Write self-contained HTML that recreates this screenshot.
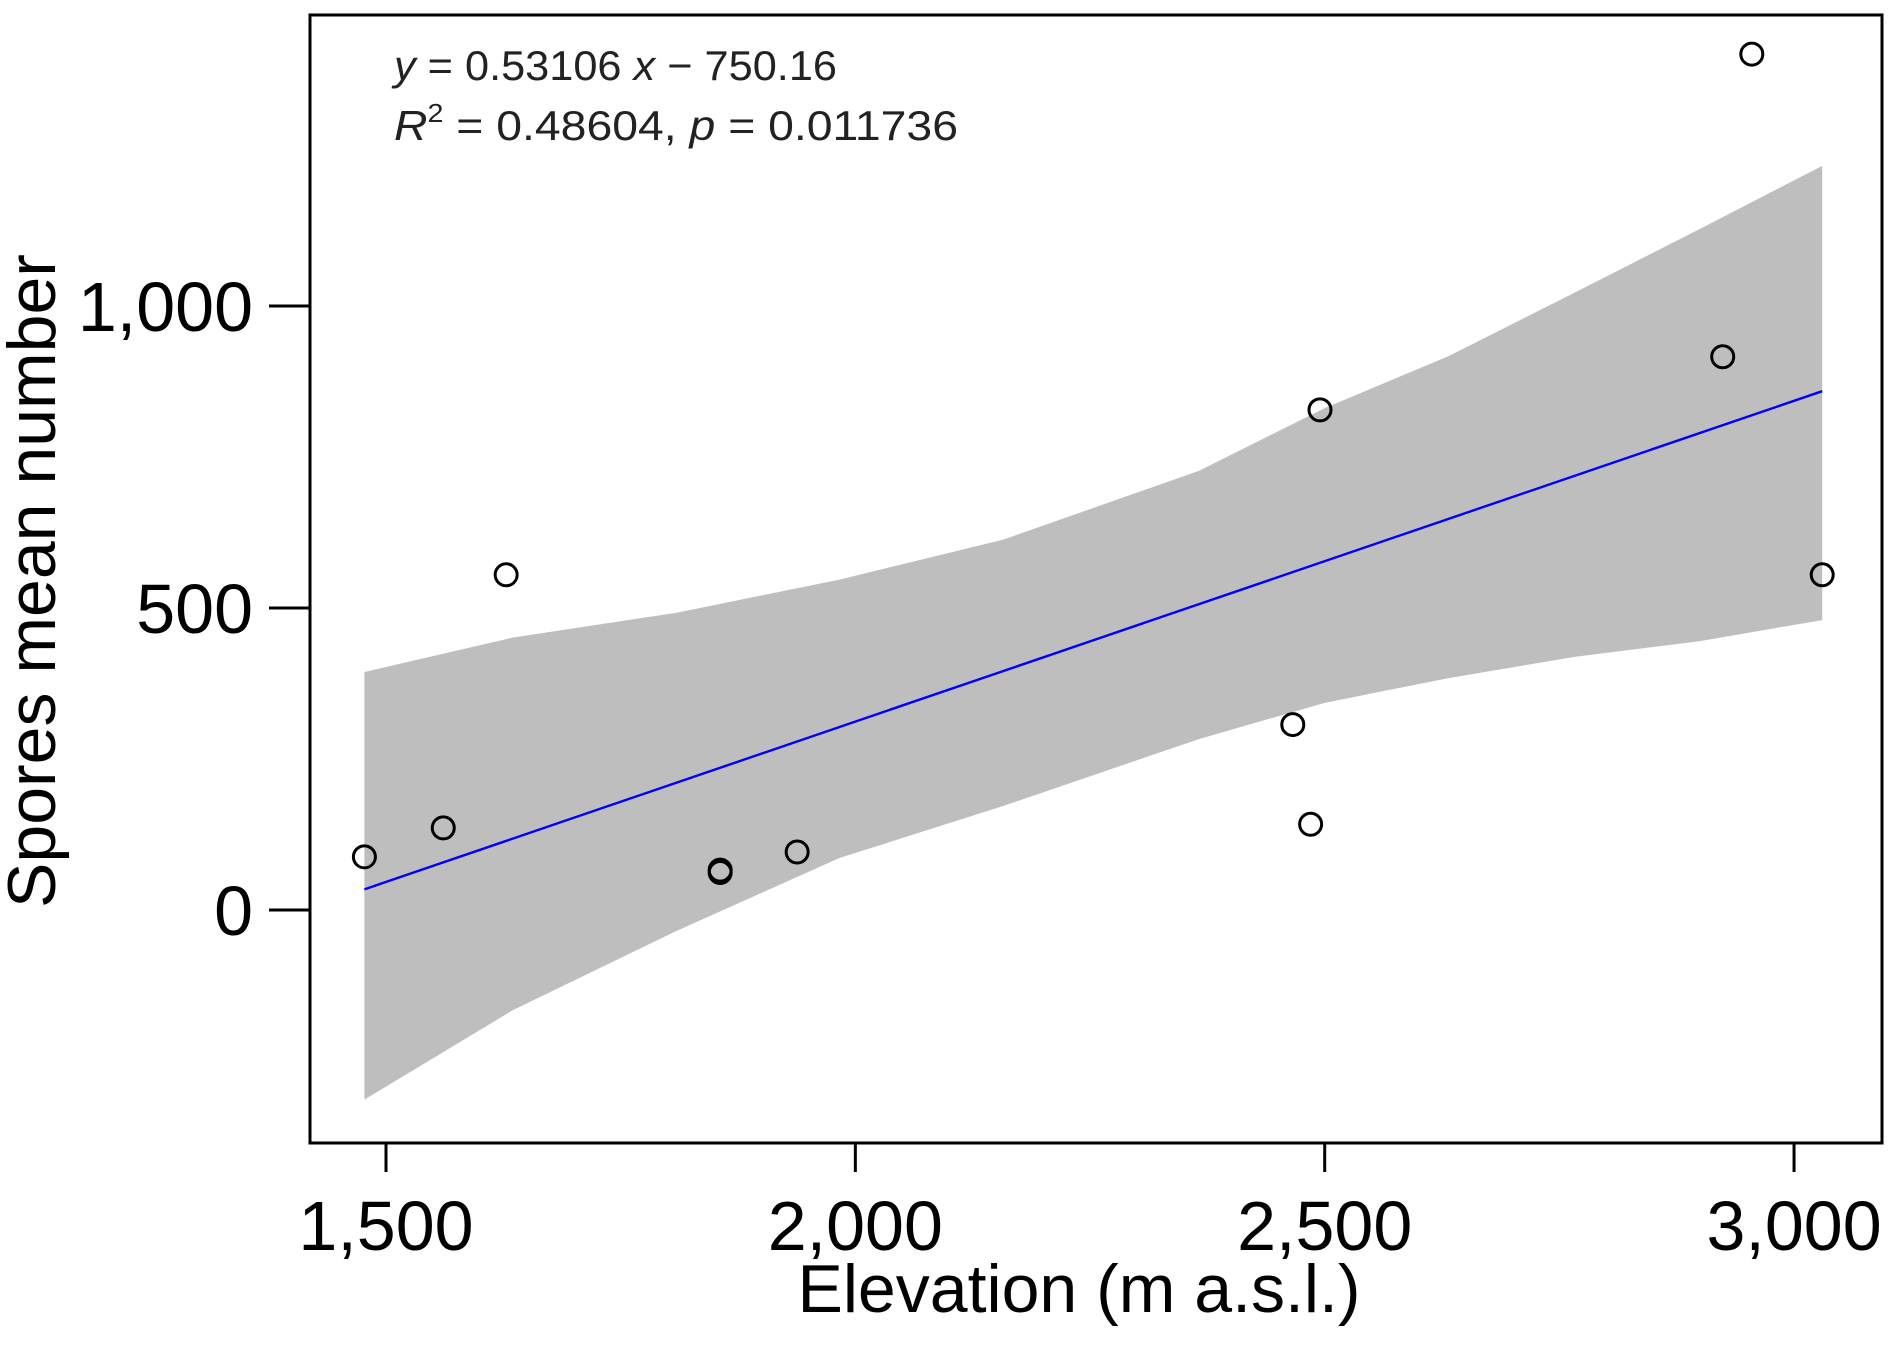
<!DOCTYPE html>
<html><head><meta charset="utf-8"><style>
html,body{margin:0;padding:0;background:#fff;}
svg{display:block;font-family:"Liberation Sans",Arial,sans-serif;}
</style></head><body>
<svg id="chart" width="1891" height="1362" viewBox="0 0 1891 1362" xmlns="http://www.w3.org/2000/svg">
<g id="band"></g>
<g id="fit"></g>
<g id="points"></g>
<rect x="310" y="15" width="1572" height="1128" fill="none" stroke="#000" stroke-width="3"/>
<g id="xaxis"></g>
<g id="yaxis"></g>
<text x="1079" y="1312" font-size="68" text-anchor="middle">Elevation (m a.s.l.)</text>
<text transform="translate(55,581) rotate(-90)" font-size="68" text-anchor="middle">Spores mean number</text>
<text x="394" y="80" font-size="42" fill="#222" textLength="443" lengthAdjust="spacingAndGlyphs"><tspan font-style="italic">y</tspan> = 0.53106 <tspan font-style="italic">x</tspan> − 750.16</text>
<text x="394" y="140" font-size="42" fill="#222" textLength="564" lengthAdjust="spacingAndGlyphs"><tspan font-style="italic">R</tspan><tspan dy="-18" font-size="26">2</tspan><tspan dy="18"> = 0.48604,  </tspan><tspan font-style="italic">p</tspan>  = 0.011736</text>
</svg>
<script>
const ptX = [1477, 1561, 1628, 1856, 1856, 1938, 2466, 2485, 2495, 2924, 2955, 3030];
const ptY = [88, 136, 555, 66, 62, 96, 307, 142, 828, 916, 1417, 555];
const bandX = [1477, 1635, 1809, 1983, 2157, 2366, 2500, 2632, 2766, 2899, 3030];
const upperY = [394, 451, 492, 547, 613, 727, 831, 917, 1022, 1127, 1232];
const lowerY = [-314, -166, -35, 86, 172, 283, 343, 384, 419, 445, 480];
const slope = 0.53106, intercept = -750.16;
const xTicks = [1500, 2000, 2500, 3000];
const xTickLabels = ["1,500", "2,000", "2,500", "3,000"];
const yTicks = [0, 500, 1000];
const yTickLabels = ["0", "500", "1,000"];

const NS = "http://www.w3.org/2000/svg";
const sx = v => 386 + (v - 1500) * 0.9387;
const sy = v => 910 - v * 0.604;
function mk(tag, attrs, parent){const e=document.createElementNS(NS,tag);for(const k in attrs)e.setAttribute(k,attrs[k]);parent.appendChild(e);return e;}

// band
let d = bandX.map((x,i)=>(i?"L":"M")+sx(x)+","+sy(upperY[i])).join(" ");
for(let i=bandX.length-1;i>=0;i--) d += " L"+sx(bandX[i])+","+sy(lowerY[i]);
const band = mk("path",{d:d+" Z",fill:"#bebebe"},document.getElementById("band"));



// fit line
const xmin = Math.min(...ptX), xmax = Math.max(...ptX);
const fl = mk("line",{x1:sx(xmin),y1:sy(slope*xmin+intercept),x2:sx(xmax),y2:sy(slope*xmax+intercept),stroke:"#0000ff","stroke-width":2.4},document.getElementById("fit"));



// points
const pg = document.getElementById("points");
ptX.forEach((x,i)=>{
  const c = mk("circle",{cx:sx(x),cy:sy(ptY[i]),r:11,fill:"none",stroke:"#000","stroke-width":3},pg);
  
  
});

// x axis
const xg = document.getElementById("xaxis");
xTicks.forEach((v,i)=>{
  const t = mk("line",{x1:sx(v),y1:1143,x2:sx(v),y2:1172,stroke:"#000","stroke-width":3},xg);
  
  
  const l = mk("text",{x:sx(v),y:1250,"font-size":70,"text-anchor":"middle"},xg);
  l.textContent = xTickLabels[i];
  
  
});
// y axis
const yg = document.getElementById("yaxis");
yTicks.forEach((v,i)=>{
  const t = mk("line",{x1:269,y1:sy(v),x2:310,y2:sy(v),stroke:"#000","stroke-width":3},yg);
  
  
  const l = mk("text",{x:253,y:sy(v)+25,"font-size":70,"text-anchor":"end"},yg);
  l.textContent = yTickLabels[i];
  
  
});
</script>
</body></html>
